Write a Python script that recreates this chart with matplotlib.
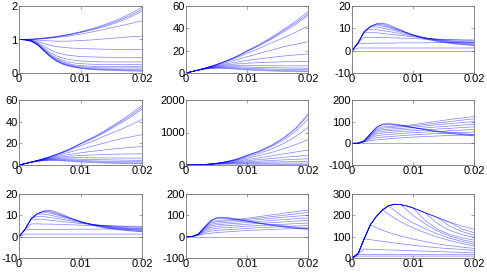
import matplotlib
matplotlib.use("Agg")
import matplotlib.pyplot as plt
import numpy as np

plt.rcParams['font.family'] = ['Liberation Sans', 'DejaVu Sans']

# sample times (ms), converted to seconds below
t_ms = [0, 1, 2, 3, 4, 5, 6, 7, 8, 9, 10, 12, 14, 16, 18, 20]
time = np.array(t_ms) * 1e-3

# panel (1,1)
s11 = [
    [1, 1.00, 1.01, 1.02, 1.04, 1.06, 1.09, 1.12, 1.15, 1.19, 1.23, 1.33, 1.45, 1.59, 1.76, 1.96],
    [1, 1.00, 1.01, 1.02, 1.04, 1.06, 1.08, 1.11, 1.14, 1.18, 1.22, 1.31, 1.42, 1.55, 1.71, 1.90],
    [1, 1.00, 1.01, 1.02, 1.03, 1.05, 1.07, 1.10, 1.13, 1.17, 1.21, 1.29, 1.39, 1.51, 1.66, 1.85],
    [1, 1.00, 1.00, 1.01, 1.02, 1.04, 1.06, 1.08, 1.10, 1.13, 1.16, 1.23, 1.31, 1.39, 1.47, 1.56],
    [1, 1.00, 0.99, 0.98, 0.97, 0.96, 0.95, 0.95, 0.95, 0.96, 0.97, 0.99, 1.02, 1.05, 1.08, 1.10],
    [1, 1.00, 0.98, 0.94, 0.88, 0.83, 0.79, 0.77, 0.75, 0.74, 0.73, 0.72, 0.71, 0.70, 0.70, 0.70],
    [1, 1.00, 0.97, 0.91, 0.80, 0.70, 0.62, 0.57, 0.53, 0.51, 0.49, 0.48, 0.47, 0.46, 0.46, 0.46],
    [1, 0.99, 0.96, 0.89, 0.75, 0.62, 0.52, 0.45, 0.41, 0.38, 0.36, 0.34, 0.33, 0.33, 0.33, 0.33],
    [1, 0.99, 0.96, 0.87, 0.72, 0.57, 0.46, 0.38, 0.33, 0.30, 0.28, 0.26, 0.25, 0.25, 0.25, 0.25],
    [1, 0.99, 0.95, 0.86, 0.70, 0.54, 0.42, 0.34, 0.28, 0.24, 0.22, 0.20, 0.19, 0.19, 0.19, 0.20],
    [1, 0.99, 0.95, 0.85, 0.69, 0.52, 0.40, 0.31, 0.25, 0.21, 0.19, 0.16, 0.15, 0.15, 0.15, 0.15],
    [1, 0.99, 0.95, 0.85, 0.68, 0.51, 0.38, 0.29, 0.23, 0.19, 0.16, 0.13, 0.12, 0.11, 0.11, 0.11],
    [1, 0.99, 0.95, 0.84, 0.67, 0.50, 0.37, 0.28, 0.22, 0.18, 0.15, 0.11, 0.10, 0.09, 0.08, 0.08],
    [1, 0.99, 0.95, 0.84, 0.67, 0.50, 0.36, 0.27, 0.21, 0.17, 0.14, 0.10, 0.08, 0.07, 0.06, 0.05],
]

# panels (1,2) and (2,1)
s12 = [
    [0, 1.3, 2.7, 4.2, 5.8, 7.6, 9.6, 11.8, 14.2, 17.0, 20.0, 25.5, 32.0, 39.0, 46.5, 55.0],
    [0, 1.3, 2.7, 4.2, 5.8, 7.6, 9.6, 11.7, 14.0, 16.7, 19.6, 25.0, 31.0, 38.0, 45.0, 53.0],
    [0, 1.3, 2.7, 4.2, 5.8, 7.5, 9.5, 11.6, 13.8, 16.4, 19.2, 24.4, 30.2, 36.8, 43.5, 51.5],
    [0, 1.3, 2.7, 4.2, 5.7, 7.4, 9.2, 11.1, 13.1, 15.3, 17.6, 22.0, 27.0, 31.5, 36.5, 42.0],
    [0, 1.3, 2.7, 4.1, 5.5, 7.0, 8.5, 10.0, 11.5, 13.0, 14.5, 17.5, 20.5, 23.5, 25.8, 28.0],
    [0, 1.3, 2.7, 4.0, 5.3, 6.5, 7.6, 8.6, 9.5, 10.4, 11.3, 12.7, 14.0, 15.2, 16.2, 17.0],
    [0, 1.3, 2.6, 3.9, 5.1, 6.1, 6.9, 7.5, 8.0, 8.4, 8.8, 9.3, 9.7, 10.0, 10.2, 10.4],
    [0, 1.3, 2.6, 3.8, 4.9, 5.7, 6.2, 6.5, 6.6, 6.7, 6.7, 6.6, 6.5, 6.5, 6.4, 6.4],
    [0, 1.3, 2.6, 3.7, 4.7, 5.3, 5.6, 5.7, 5.6, 5.5, 5.3, 5.0, 4.8, 4.6, 4.4, 4.3],
    [0, 1.3, 2.5, 3.6, 4.5, 5.0, 5.1, 5.0, 4.8, 4.5, 4.2, 3.8, 3.5, 3.3, 3.1, 3.0],
    [0, 1.3, 2.5, 3.5, 4.3, 4.6, 4.6, 4.4, 4.1, 3.7, 3.4, 2.9, 2.5, 2.2, 2.0, 1.8],
    [0, 1.3, 2.5, 3.5, 4.1, 4.3, 4.2, 3.9, 3.5, 3.1, 2.7, 2.2, 1.8, 1.5, 1.3, 1.2],
]

# panels (1,3) and (3,1)
s13 = [
    [0, 3.5, 8.5, 10.8, 12.0, 12.4, 11.7, 10.5, 9.3, 8.0, 6.9, 5.2, 4.1, 3.3, 2.7, 2.3],
    [0, 3.5, 8.5, 10.8, 12.0, 12.1, 11.2, 10.1, 9.1, 8.0, 7.0, 5.4, 4.3, 3.5, 2.9, 2.5],
    [0, 3.5, 8.5, 10.8, 11.9, 11.6, 10.7, 9.8, 8.9, 8.0, 7.1, 5.6, 4.5, 3.7, 3.2, 2.8],
    [0, 3.5, 8.5, 10.8, 11.5, 11.0, 10.3, 9.5, 8.8, 8.0, 7.1, 5.7, 4.7, 4.0, 3.5, 3.1],
    [0, 3.5, 8.5, 10.6, 10.6, 10.1, 9.5, 8.9, 8.3, 7.6, 6.9, 5.7, 4.9, 4.3, 3.8, 3.5],
    [0, 3.5, 8.5, 9.6, 9.4, 9.0, 8.6, 8.1, 7.6, 7.1, 6.6, 5.7, 5.0, 4.5, 4.1, 3.9],
    [0, 3.5, 8.2, 8.2, 8.0, 7.7, 7.4, 7.1, 6.8, 6.5, 6.2, 5.7, 5.2, 4.9, 4.6, 4.4],
    [0, 3.5, 6.0, 6.0, 5.9, 5.9, 5.8, 5.7, 5.6, 5.5, 5.4, 5.2, 5.1, 5.0, 4.9, 4.8],
    [0, 3.2, 3.3, 3.3, 3.4, 3.4, 3.4, 3.4, 3.5, 3.5, 3.5, 3.5, 3.6, 3.6, 3.6, 3.7],
    [0, 1.2, 1.2, 1.2, 1.2, 1.2, 1.2, 1.2, 1.2, 1.2, 1.2, 1.2, 1.2, 1.2, 1.2, 1.2],
    [0, 0.0, 0.0, 0.0, 0.0, 0.0, 0.0, 0.0, 0.0, 0.0, 0.0, 0.0, 0.0, 0.0, 0.0, 0.0],
]

# panel (2,2)
s22 = [
    [0, 1, 5, 15, 30, 52, 82, 120, 165, 225, 300, 430, 610, 840, 1140, 1570],
    [0, 1, 5, 15, 30, 52, 82, 119, 163, 222, 296, 420, 595, 820, 1110, 1520],
    [0, 1, 5, 15, 30, 51, 80, 116, 158, 214, 283, 400, 565, 770, 1040, 1410],
    [0, 1, 5, 15, 29, 50, 77, 110, 148, 196, 255, 355, 490, 660, 880, 1150],
    [0, 1, 5, 15, 29, 48, 72, 101, 134, 172, 215, 290, 385, 500, 630, 780],
    [0, 1, 5, 14, 28, 45, 66, 89, 114, 141, 170, 220, 280, 340, 400, 460],
    [0, 1, 5, 14, 27, 42, 59, 77, 95, 114, 133, 165, 200, 235, 268, 300],
    [0, 1, 5, 14, 26, 39, 52, 64, 76, 88, 99, 120, 140, 158, 175, 190],
    [0, 1, 5, 13, 24, 35, 45, 53, 60, 67, 73, 83, 92, 99, 105, 110],
    [0, 1, 5, 13, 22, 30, 36, 41, 44, 47, 49, 52, 55, 57, 59, 60],
    [0, 1, 5, 12, 19, 24, 27, 28, 28, 27, 26, 24, 23, 22, 21, 20],
]

# panels (2,3) and (3,2)
s23 = [
    [0, 0.5, 12, 43, 74, 89, 91, 89, 85, 80, 74, 62, 53, 45, 39, 34],
    [0, 0.5, 12, 43, 74, 88, 89, 87, 83, 78, 73, 63, 54, 47, 41, 36],
    [0, 0.5, 12, 43, 73, 85, 86, 84, 81, 77, 73, 65, 57, 51, 45, 40],
    [0, 0.5, 12, 42, 68, 76, 78, 79, 81, 83, 86, 94, 102, 110, 117, 124],
    [0, 0.5, 12, 40, 63, 70, 72, 74, 76, 78, 81, 87, 94, 100, 107, 113],
    [0, 0.5, 11, 37, 57, 63, 65, 67, 69, 71, 74, 80, 86, 91, 96, 100],
    [0, 0.5, 11, 34, 50, 56, 58, 60, 62, 64, 66, 71, 76, 80, 84, 88],
    [0, 0.5, 10, 30, 43, 48, 50, 52, 54, 56, 58, 62, 66, 69, 73, 76],
    [0, 0.5, 9, 25, 35, 39, 41, 43, 45, 47, 49, 52, 55, 58, 61, 64],
    [0, 0.5, 8, 19, 26, 29, 31, 33, 35, 37, 39, 42, 45, 48, 50, 52],
    [0, 0.5, 6, 12, 16, 19, 21, 23, 25, 27, 29, 31, 34, 36, 38, 40],
    [0, 0.0, 0, 0, 0, 0, 0, 0, 0, 0, 0, 0, 0, 0, 0, 0],
]

# panel (3,3)
s33 = [
    [0, 20, 90, 155, 195, 225, 245, 252, 250, 244, 235, 212, 190, 168, 150, 135],
    [0, 20, 90, 155, 195, 225, 245, 252, 250, 244, 235, 212, 190, 168, 136, 119],
    [0, 20, 90, 155, 195, 225, 245, 252, 250, 244, 235, 212, 190, 150, 124, 107],
    [0, 20, 90, 155, 195, 225, 245, 252, 250, 244, 235, 212, 162, 130, 110, 97],
    [0, 20, 90, 155, 195, 225, 245, 252, 250, 244, 235, 175, 135, 110, 95, 84],
    [0, 20, 90, 155, 195, 225, 245, 252, 250, 225, 200, 160, 127, 103, 86, 74],
    [0, 20, 90, 155, 195, 225, 245, 222, 200, 182, 165, 137, 113, 93, 78, 65],
    [0, 20, 90, 155, 195, 225, 205, 187, 170, 155, 142, 118, 98, 82, 68, 57],
    [0, 20, 90, 155, 142, 130, 120, 111, 103, 96, 89, 77, 66, 58, 51, 45],
    [0, 20, 90, 86, 82, 78, 74, 70, 67, 63, 60, 54, 48, 44, 40, 36],
    [0, 20, 42, 41, 40, 39, 38, 37, 36, 35, 34, 32, 30, 28, 26, 24],
    [0, 16, 17, 17, 17, 17, 17, 17, 17, 17, 17, 17, 17, 16, 16, 16],
    [0, 9, 9, 9, 9, 9, 9, 9, 9, 9, 9, 9, 9, 9, 9, 9],
    [0, 0, 0, 0, 0, 0, 0, 0, 0, 0, 0, 0, 0, 0, 0, 0],
]

grid = [[s11, s12, s13],
        [s12, s22, s23],
        [s13, s23, s33]]

y_ticks = {
    id(s11): [0, 1, 2],
    id(s12): [0, 20, 40, 60],
    id(s13): [-10, 0, 10, 20],
    id(s22): [0, 1000, 2000],
    id(s23): [-100, 0, 100, 200],
    id(s33): [0, 100, 200, 300],
}

W, H = 487, 273
col_px = [(19, 142), (186, 308), (352, 474)]
row_px = [(6, 73), (100, 165), (194, 258)]

fig = plt.figure(figsize=(W / 100, H / 100), dpi=100)

for i in range(3):
    for j in range(3):
        x0, x1 = col_px[j]
        y0, y1 = row_px[i]
        ax = fig.add_axes([x0 / W, 1 - y1 / H, (x1 - x0) / W, (y1 - y0) / H])
        curves = grid[i][j]
        for c in curves:
            ax.plot(time, c, color=(0, 0, 1), lw=0.5, alpha=0.5)
        yt = y_ticks[id(curves)]
        ax.set_xlim(0, 0.02)
        ax.set_ylim(yt[0], yt[-1])
        ax.set_xticks([0, 0.01, 0.02])
        ax.set_xticklabels(['0', '0.01', '0.02'])
        ax.set_yticks(yt)
        ax.set_yticklabels([str(v) for v in yt])
        ax.tick_params(direction='in', length=2, width=0.5, color='0.5',
                       labelsize=8, top=True, right=True, pad=1)
        for sp in ax.spines.values():
            sp.set_color('0.45')
            sp.set_linewidth(0.6)

fig.savefig('out.png', dpi=100)
